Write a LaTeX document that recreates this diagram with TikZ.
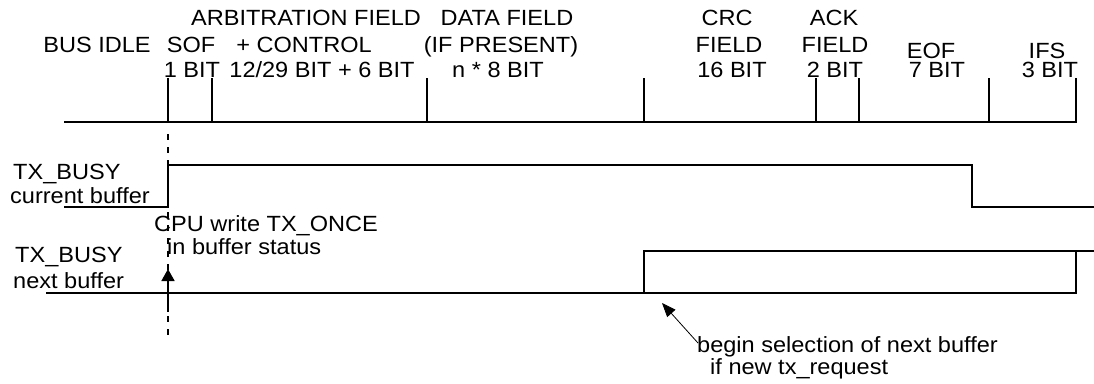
\documentclass[tikz,border=0pt]{standalone}
\usepackage{fontspec}
\setmainfont{Liberation Sans}[FakeStretch=1.07]
\usetikzlibrary{arrows.meta}
\begin{document}
\begin{tikzpicture}[x=1pt,y=-1pt,
  sig/.style={line width=1.8pt, line join=miter},
  lbl/.style={inner sep=0pt, anchor=base, font=\fontsize{22}{24}\selectfont},
  lbll/.style={lbl, anchor=base west},
  dashv/.style={line width=1.8pt, dash pattern=on 6pt off 7pt},
  thinarrow/.style={line width=0.8pt, -{Triangle[length=14pt,width=11pt]}},
  uparrow/.style={line width=1.8pt, -{Triangle[length=12pt,width=13pt]}}]
\useasboundingbox (0,0) rectangle (1094,383);

% ---------- header texts ----------
\node[lbl] (arb1) at (306,25) {ARBITRATION FIELD};
\node[lbl] (data1) at (507,25) {DATA FIELD};
\node[lbl] (crc1) at (727,25) {CRC};
\node[lbl] (ack1) at (834,25) {ACK};

\node[lbl] (idle) at (97,52) {BUS IDLE};
\node[lbl] (sof1) at (191,52) {SOF};
\node[lbl] (arb2) at (304,52) {+ CONTROL};
\node[lbl] (data2) at (501,52) {(IF PRESENT)};
\node[lbl] (crc2) at (729,52) {FIELD};
\node[lbl] (ack2) at (835,52) {FIELD};
\node[lbl] (eof1) at (931,58) {EOF};
\node[lbl] (ifs1) at (1047,58) {IFS};

\node[lbl] (sof2) at (192,77) {1 BIT};
\node[lbl] (arb3) at (322,77) {12/29 BIT + 6 BIT};
\node[lbl] (data3) at (498,77) {n * 8 BIT};
\node[lbl] (crc3) at (732,77) {16 BIT};
\node[lbl] (ack3) at (835,77) {2 BIT};
\node[lbl] (eof2) at (937,77) {7 BIT};
\node[lbl] (ifs2) at (1050,77) {3 BIT};

% ---------- bus frame line with field ticks ----------
\draw[dashv] (168,134) -- (168,338);
\draw[sig] (1076,78) -- (1076,122) -- (64,122);
\foreach \x in {168,212,427,644,816,859,989}
  \draw[sig] (\x,78) -- (\x,122);

% ---------- TX_BUSY current buffer ----------
\node[lbll] (cur1) at (13,179) {TX\_BUSY};
\node[lbll] (cur2) at (10,203) {current buffer};
\draw[sig] (64,207) -- (168,207) -- (168,165) -- (972,165) -- (972,207) -- (1094,207);

% ---------- CPU write ----------
\node[lbll] (cpu1) at (154,231) {CPU write TX\_ONCE};
\node[lbll] (cpu2) at (167,254) {in buffer status};

% ---------- TX_BUSY next buffer ----------
\node[lbll] (nxt1) at (15,262) {TX\_BUSY};
\node[lbll] (nxt2) at (13,288) {next buffer};
\draw[sig] (46,293) -- (644,293) -- (644,251) -- (1094,251);
\draw[sig] (644,293) -- (1076,293) -- (1076,251);

% ---------- arrows ----------
\coordinate (upTail) at (168,312);
\coordinate (upTip) at (168,269);
\draw[uparrow] (upTail) -- (upTip);

\node[lbll] (sel1) at (697,352) {begin selection of next buffer};
\node[lbll] (sel2) at (710,374) {if new tx\_request};
\coordinate (selTail) at (698,343);
\coordinate (selTip) at (662,303);
\draw[thinarrow] (selTail) -- (selTip);
\end{tikzpicture}
\end{document}
